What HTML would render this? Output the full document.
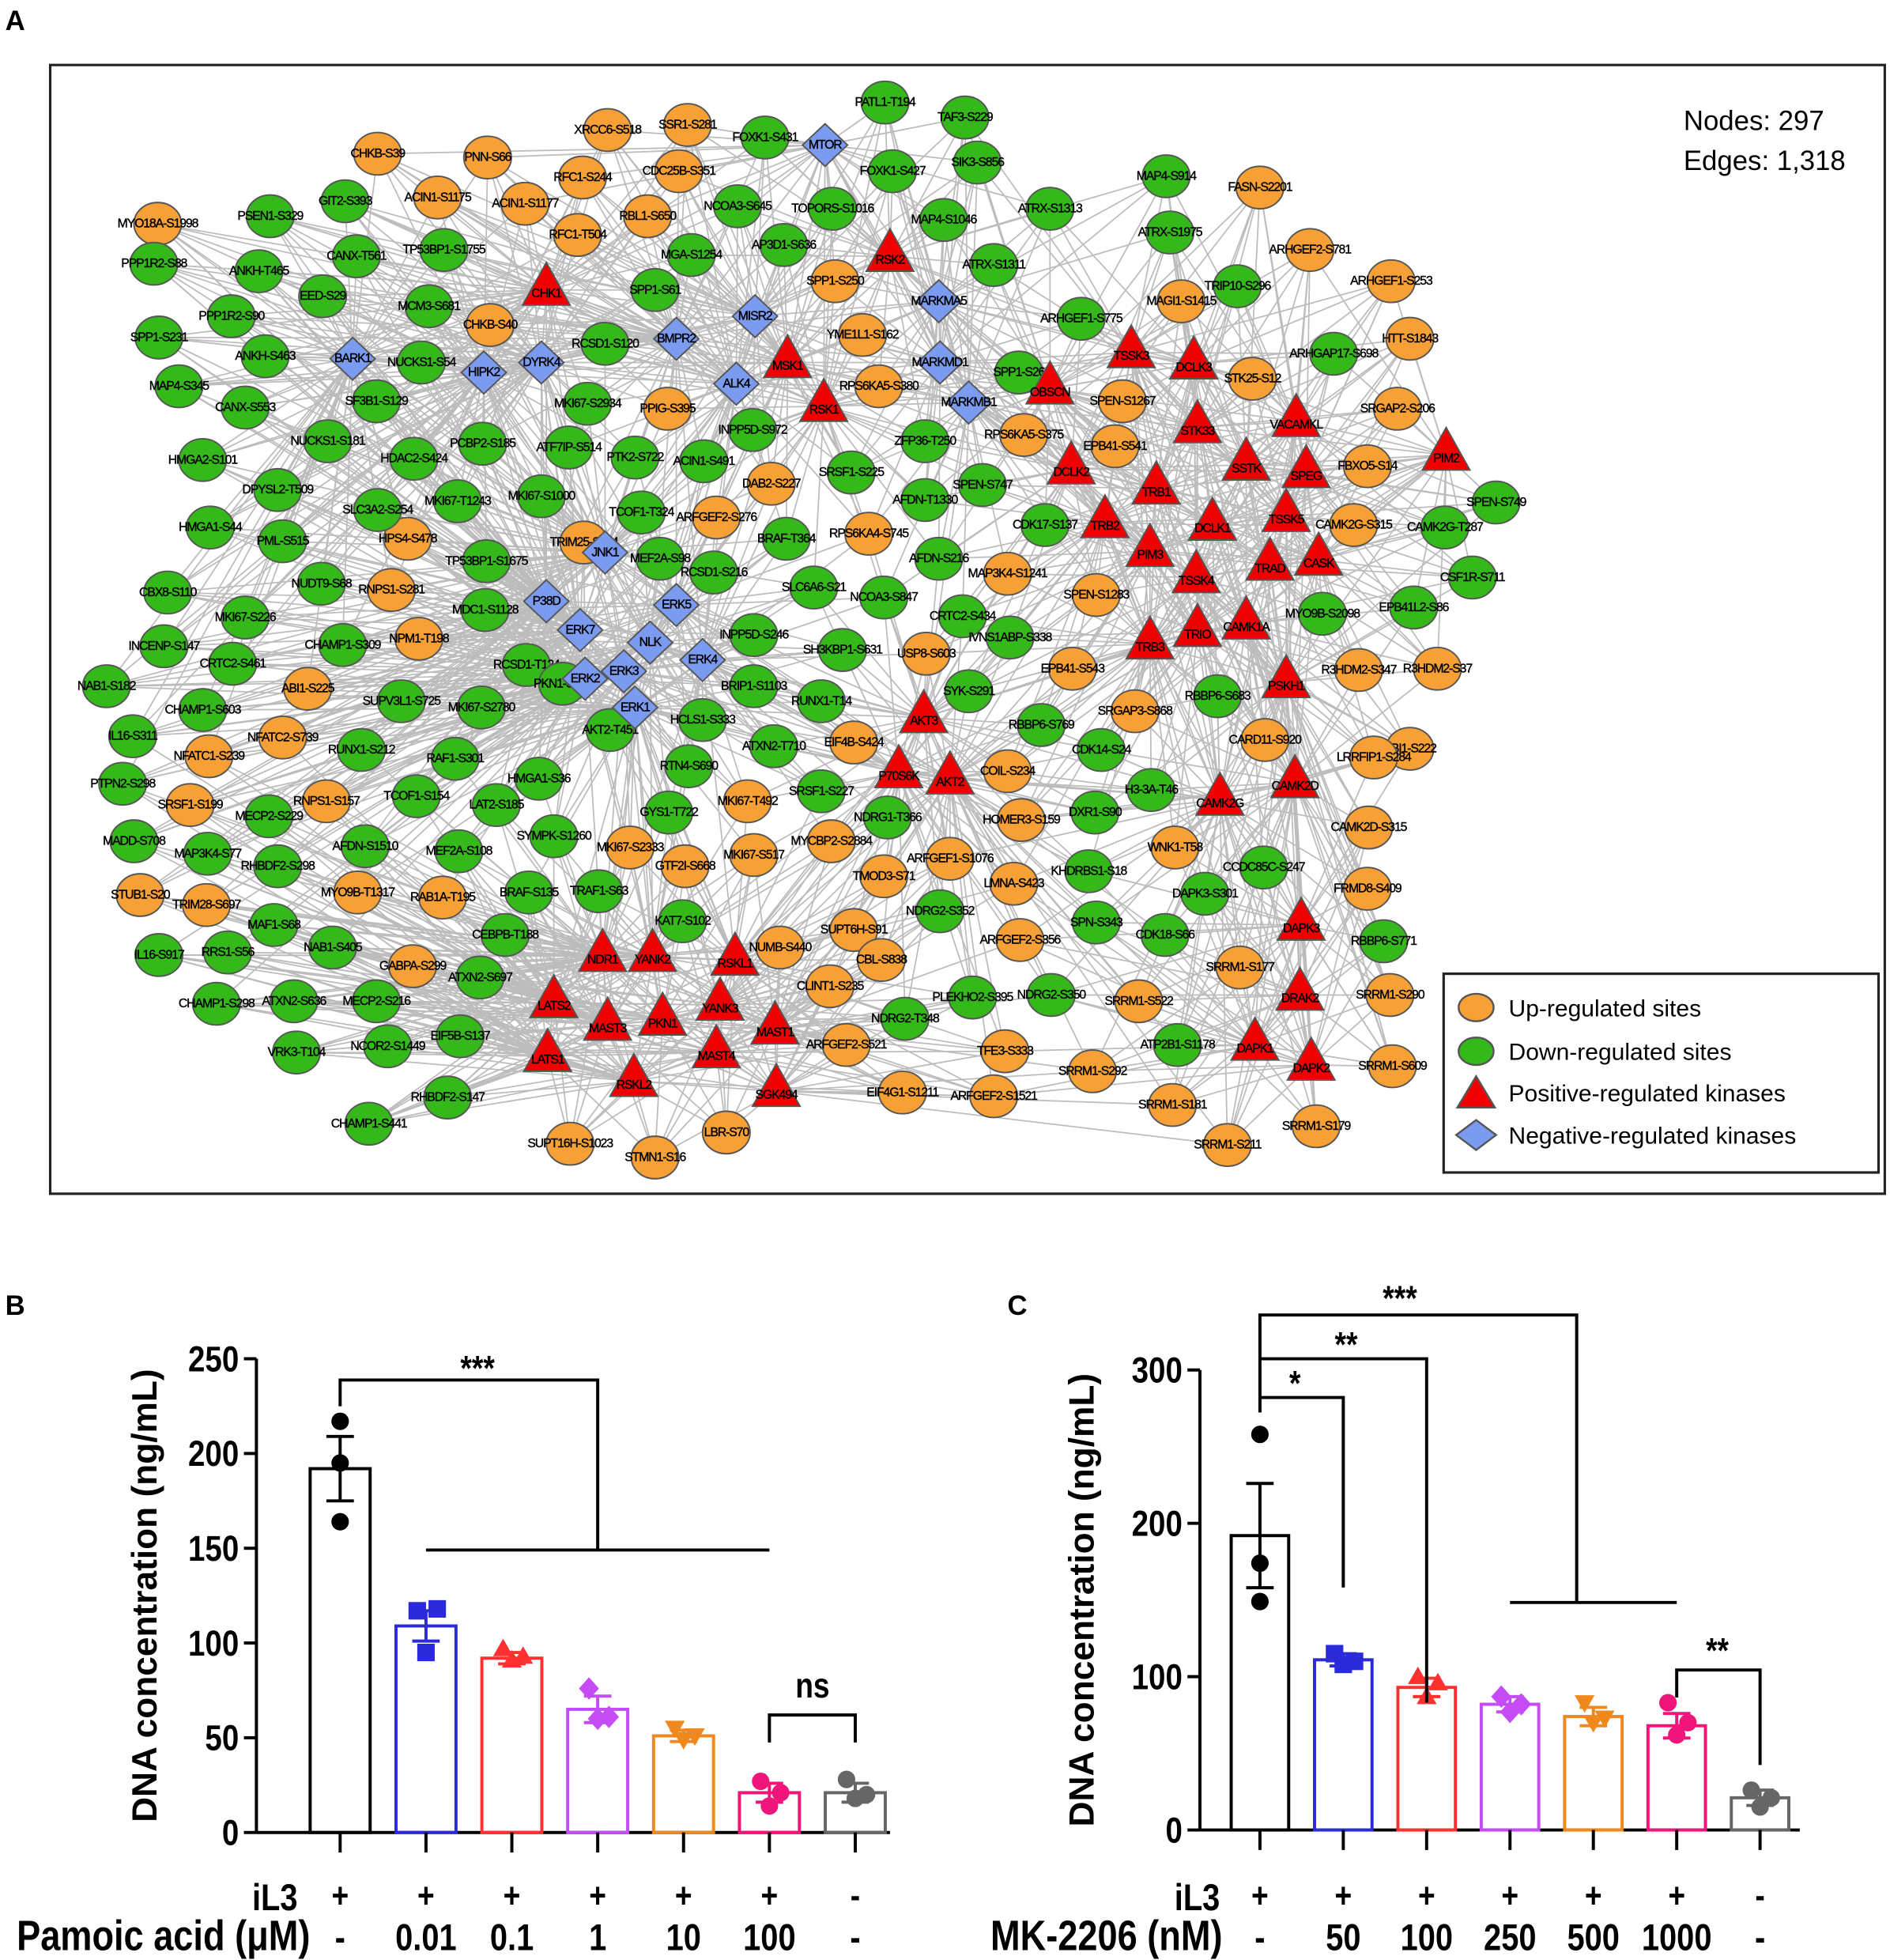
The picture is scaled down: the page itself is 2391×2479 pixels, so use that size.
<!DOCTYPE html>
<html><head><meta charset="utf-8"><style>
html,body{margin:0;padding:0;background:#fff}
svg{display:block}
.lbl{font-family:"Liberation Sans Narrow","Liberation Sans",sans-serif;font-size:10px;fill:#000;stroke:#000;stroke-width:0.25;text-anchor:middle;dominant-baseline:central;letter-spacing:-0.7px}
.ax{font-family:"Liberation Sans Narrow","Liberation Sans",sans-serif;font-weight:bold;fill:#000}
</style></head><body>
<svg id="fig" width="2391" height="2479" viewBox="0 0 1512 1568" xmlns="http://www.w3.org/2000/svg">
<text x="4" y="24" font-family="Liberation Sans" font-weight="bold" font-size="22">A</text>
<text x="4" y="1052" font-family="Liberation Sans" font-weight="bold" font-size="22">B</text>
<text x="806" y="1052" font-family="Liberation Sans" font-weight="bold" font-size="22">C</text>
<rect x="40" y="52" width="1468" height="903" fill="none" stroke="#222" stroke-width="2"/>
<g id="edges"></g>
<g id="nodes"></g>
<text x="1347" y="104" font-family="Liberation Sans" font-size="22">Nodes: 297</text>
<text x="1347" y="136" font-family="Liberation Sans" font-size="22">Edges: 1,318</text>
<g>
<rect x="1155" y="779" width="348" height="159" fill="#fff" stroke="#222" stroke-width="2"/>
<ellipse cx="1181" cy="806" rx="14" ry="11" fill="#f7a035" stroke="#555" stroke-width="1.5"/>
<text x="1207" y="813" font-family="Liberation Sans" font-size="19">Up-regulated sites</text>
<ellipse cx="1181" cy="841" rx="14" ry="11" fill="#34b81a" stroke="#555" stroke-width="1.5"/>
<text x="1207" y="848" font-family="Liberation Sans" font-size="19">Down-regulated sites</text>
<polygon points="1181,861 1196,886 1166,886" fill="#f00000" stroke="#555" stroke-width="1.5"/>
<text x="1207" y="881" font-family="Liberation Sans" font-size="19">Positive-regulated kinases</text>
<polygon points="1181,896 1197,908 1181,920 1165,908" fill="#7b9bf0" stroke="#555" stroke-width="1.5"/>
<text x="1207" y="915" font-family="Liberation Sans" font-size="19">Negative-regulated kinases</text>
</g>
<g id="chartB"></g>
<g id="chartC"></g>
</svg>
<script>
const NS="http://www.w3.org/2000/svg";
function mk(parent,tag,attrs,text){const e=document.createElementNS(NS,tag);for(const k in attrs)e.setAttribute(k,attrs[k]);if(text!==undefined)e.textContent=text;parent.appendChild(e);return e;}
const upNodes=[["CHKB-S39",302,123],["PNN-S66",390,126],["XRCC6-S518",486,104],["SSR1-S281",550,100],["ACIN1-S1175",350,158],["ACIN1-S1177",420,163],["RFC1-S244",466,142],["CDC25B-S351",543,137],["RBL1-S650",518,173],["RFC1-T504",462,188],["MYO18A-S1998",126,179],["CHKB-S40",392,260],["SPP1-S250",668,225],["YME1L1-S162",690,268],["RPS6KA5-S380",703,309],["PPIG-S395",534,327],["ARFGEF2-S276",573,414],["DAB2-S227",617,387],["HPS4-S478",326,431],["TRIM25-S424",467,434],["RPS6KA4-S745",695,427],["RNPS1-S281",313,472],["NPM1-T198",335,511],["ABI1-S225",246,551],["NFATC2-S739",226,590],["NFATC1-S239",167,605],["SRSF1-S199",152,644],["RNPS1-S157",261,641],["STUB1-S20",112,716],["TRIM28-S697",165,724],["RAB1A-T195",354,718],["MYO9B-T1317",286,714],["GABPA-S299",330,773],["USP8-S603",741,523],["EIF4B-S424",683,594],["MKI67-T492",598,641],["MKI67-S2333",504,678],["MKI67-S517",603,684],["GTF2I-S668",548,693],["MYCBP2-S2884",665,673],["TMOD3-S71",707,701],["NUMB-S440",624,758],["SUPT6H-S91",683,744],["CLINT1-S235",664,789],["CBL-S838",705,768],["ARFGEF1-S1076",760,687],["COIL-S234",806,617],["LMNA-S423",811,707],["HOMER3-S159",817,656],["SUPT16H-S1023",456,915],["STMN1-S16",524,926],["LBR-S70",581,906],["TFE3-S333",804,841],["EIF4G1-S1211",722,874],["ARFGEF2-S521",677,836],["ARFGEF2-S1521",795,877],["ARFGEF2-S356",816,752],["SPEN-S1267",898,321],["EPB41-S541",892,357],["SPEN-S1283",877,476],["EPB41-S543",858,535],["SRGAP3-S868",908,569],["MAP3K4-S1241",806,459],["RPS6KA5-S375",819,348],["MAGI1-S1415",945,241],["FASN-S2201",1008,150],["ARHGEF2-S781",1048,200],["STK25-S12",1002,303],["ARHGEF1-S253",1113,225],["HTT-S1843",1128,271],["SRGAP2-S206",1118,327],["FBXO5-S14",1094,373],["CAMK2G-S315",1083,420],["R3HDM2-S347",1087,536],["R3HDM2-S37",1150,535],["ABI1-S222",1128,599],["LRRFIP1-S284",1099,606],["CARD11-S920",1012,592],["CAMK2D-S315",1095,662],["FRMD8-S409",1094,711],["WNK1-T58",940,678],["SRRM1-S177",992,774],["SRRM1-S290",1112,796],["SRRM1-S522",911,801],["SRRM1-S609",1114,853],["SRRM1-S292",874,857],["SRRM1-S181",938,884],["SRRM1-S211",982,916],["SRRM1-S179",1053,901]];
const downNodes=[["PATL1-T194",708,82],["TAF3-S229",772,94],["FOXK1-S431",612,110],["FOXK1-S427",714,137],["SIK3-S856",782,130],["MAP4-S914",933,141],["ATRX-S1313",840,167],["MAP4-S1046",755,176],["ATRX-S1975",936,186],["ATRX-S1311",795,212],["TOPORS-S1016",666,167],["NCOA3-S645",590,165],["AP3D1-S636",627,196],["MGA-S1254",553,204],["SPP1-S61",524,232],["GIT2-S393",276,161],["PSEN1-S329",216,173],["CANX-T561",285,205],["TP53BP1-S1755",355,200],["EED-S29",258,237],["ANKH-T465",207,217],["PPP1R2-S88",123,211],["PPP1R2-S90",185,253],["SPP1-S231",127,270],["ANKH-S463",212,285],["MAP4-S345",143,309],["CANX-S553",196,326],["MCM3-S681",343,245],["NUCKS1-S54",337,290],["SF3B1-S129",301,321],["RCSD1-S120",484,275],["MKI67-S2934",470,323],["NUCKS1-S181",262,353],["PCBP2-S185",386,355],["ATF7IP-S514",455,358],["PTK2-S722",508,366],["ACIN1-S491",563,369],["INPP5D-S972",602,344],["HMGA2-S101",162,368],["HDAC2-S424",331,367],["DPYSL2-T509",222,392],["SLC3A2-S254",302,408],["MKI67-S1000",433,397],["MKI67-T1243",366,401],["HMGA1-S44",168,422],["PML-S515",226,433],["NUDT9-S68",257,467],["TCOF1-T324",513,410],["SRSF1-S225",681,378],["AFDN-T1330",740,400],["ZFP36-T250",740,353],["SPP1-S26",815,298],["ARHGEF1-S775",865,255],["SPEN-S747",786,388],["CDK17-S137",836,420],["AFDN-S216",751,447],["BRAF-T364",629,431],["MEF2A-S98",528,447],["TP53BP1-S1675",389,449],["CBX8-S110",134,474],["MKI67-S226",196,494],["RCSD1-S216",571,458],["SLC6A6-S21",651,470],["NCOA3-S847",707,478],["MDC1-S1128",388,488],["INCENP-S147",131,517],["CHAMP1-S309",274,516],["CRTC2-S461",186,531],["CRTC2-S434",770,493],["IVNS1ABP-S338",808,510],["NAB1-S182",85,549],["SUPV3L1-S725",321,561],["MKI67-S2780",385,566],["RCSD1-T124",421,532],["INPP5D-S246",603,508],["SH3KBP1-S631",674,520],["BRIP1-S1103",603,549],["CHAMP1-S603",162,568],["IL16-S311",106,589],["RUNX1-S212",289,600],["PKN1-S346",450,547],["HCLS1-S333",562,576],["RUNX1-T14",657,561],["ATXN2-T710",619,597],["SYK-S291",775,553],["RBBP6-S769",833,580],["CDK14-S24",881,600],["PTPN2-S298",98,627],["RAF1-S301",364,607],["AKT2-T451",488,584],["RTN4-S690",551,613],["SRSF1-S227",657,633],["GYS1-T722",535,650],["MECP2-S229",215,653],["TCOF1-S154",333,637],["LAT2-S185",397,644],["HMGA1-S36",431,623],["NDRG1-T366",710,654],["H3-3A-T46",921,632],["DXR1-S90",876,650],["MADD-S708",107,673],["MAP3K4-S77",166,683],["RHBDF2-S298",222,693],["SYMPK-S1260",443,669],["MEF2A-S108",367,681],["AFDN-S1510",292,677],["KHDRBS1-S18",871,697],["TRAF1-S63",479,713],["BRAF-S135",423,714],["MAF1-S68",219,740],["RRS1-S56",182,762],["IL16-S917",127,764],["NAB1-S405",266,758],["CHAMP1-S298",173,803],["ATXN2-S636",235,801],["CEBPB-T188",404,748],["ATXN2-S697",384,782],["MECP2-S216",301,801],["KAT7-S102",546,737],["NDRG2-S352",752,729],["SPN-S343",877,738],["DAPK3-S301",964,715],["CDK18-S66",932,748],["PLEKHO2-S395",778,798],["NDRG2-S350",841,796],["NDRG2-T348",724,815],["VRK3-T104",237,842],["EIF5B-S137",368,829],["NCOR2-S1449",310,837],["RHBDF2-S147",358,878],["CHAMP1-S441",295,899],["ATP2B1-S1178",942,836],["RBBP6-S771",1107,753],["CCDC85C-S247",1011,694],["CSF1R-S711",1178,462],["EPB41L2-S86",1131,486],["MYO9B-S2098",1058,491],["RBBP6-S683",974,557],["SPEN-S749",1197,402],["CAMK2G-T287",1156,422],["ARHGAP17-S698",1067,283],["TRIP10-S296",990,229]];
const posKinases=[["CHK1",437,232],["RSK2",712,205],["MSK1",630,290],["RSK1",659,325],["TSSK3",905,282],["DCLK3",955,291],["OBSCN",840,311],["STK33",958,342],["VACAMKL",1037,337],["PIM2",1157,364],["DCLK2",857,375],["TRB1",925,391],["SSTK",997,372],["SPEG",1045,378],["TRB2",884,418],["DCLK1",970,420],["TSSK5",1029,413],["PIM3",920,441],["TRAD",1016,452],["CASK",1055,448],["TSSK4",957,462],["CAMK1A",997,499],["TRIO",958,505],["TRB3",920,515],["PSKH1",1029,546],["AKT3",739,574],["P70S6K",719,618],["AKT2",760,623],["CAMK2G",976,640],["CAMK2D",1036,626],["DAPK3",1041,740],["DRAK2",1040,796],["DAPK1",1004,836],["DAPK2",1049,852],["NDR1",482,765],["YANK2",522,765],["RSKL1",588,768],["LATS2",443,802],["MAST3",486,820],["PKN1",530,816],["YANK3",576,804],["MAST1",620,823],["LATS1",438,845],["MAST4",573,842],["RSKL2",507,865],["SGK494",621,873]];
const negKinases=[["MTOR",660,116],["MARKMA5",751,241],["MISR2",604,253],["BMPR2",541,271],["MARKMD1",752,290],["ALK4",589,307],["MARKMB1",775,322],["BARK1",282,287],["HIPK2",387,298],["DYRK4",433,290],["JNK1",484,442],["P38D",437,481],["ERK5",541,484],["ERK7",464,504],["NLK",520,514],["ERK3",499,537],["ERK4",562,528],["ERK2",468,543],["ERK1",508,566]];
const kin=posKinases.concat(negKinases);
const sites=upNodes.concat(downNodes);
const E=document.getElementById('edges'),N=document.getElementById('nodes');
sites.forEach(s=>{
  const d=kin.map(k=>[Math.hypot(k[1]-s[1],k[2]-s[2]),k]).sort((a,b)=>a[0]-b[0]);
  for(let i=0;i<8;i++){const k=d[i][1];
    const l=mk(E,'line',{x1:k[1],y1:k[2],x2:s[1],y2:s[2],stroke:'#bcbcbc','stroke-width':1.1});
    
    }
});
kin.forEach((a,i)=>{kin.forEach((b,j)=>{if(j>i&&Math.hypot(a[1]-b[1],a[2]-b[2])<260){
  const l=mk(E,'line',{x1:a[1],y1:a[2],x2:b[1],y2:b[2],stroke:'#bcbcbc','stroke-width':1.1});
  
  }});});
function site(s,col){const g=mk(N,'g',{});
  
  
  mk(g,'ellipse',{cx:s[1],cy:s[2],rx:19,ry:17,fill:col,stroke:'#555','stroke-width':1.2});
  mk(g,'text',{x:s[1],y:s[2],class:'lbl'},s[0]);}
upNodes.forEach(s=>site(s,'#f7a035'));
downNodes.forEach(s=>site(s,'#34b81a'));
posKinases.forEach(s=>{const g=mk(N,'g',{});
  
  
  const x=s[1],y=s[2];
  mk(g,'polygon',{points:`${x},${y-22} ${x+19},${y+12} ${x-19},${y+12}`,fill:'#f00000',stroke:'#555','stroke-width':1.2});
  mk(g,'text',{x:x,y:y+3,class:'lbl'},s[0]);});
negKinases.forEach(s=>{const g=mk(N,'g',{});
  
  
  const x=s[1],y=s[2];
  mk(g,'polygon',{points:`${x},${y-17} ${x+18},${y} ${x},${y+17} ${x-18},${y}`,fill:'#7b9bf0',stroke:'#555','stroke-width':1.2});
  mk(g,'text',{x:x,y:y,class:'lbl'},s[0]);});

// ---- Chart B data ----
const bCats=["-","0.01","0.1","1","10","100","-"];
const bIL3=["+","+","+","+","+","+","-"];
const bMeans=[192,109,92,65,51,21,21];
const bSem=[17,8,3,7,3,5,5];
const bPts=[[217,195,164],[117,118,95],[97,93,91],[76,61,60],[55,51,49],[27,21,14],[28,20,18]];
const bTicks=[0,50,100,150,200,250];
// ---- Chart C data ----
const cCats=["-","50","100","250","500","1000","-"];
const cIL3=["+","+","+","+","+","+","-"];
const cMeans=[192,111,93,82,74,68,21];
const cSem=[34,4,6,5,6,8,5];
const cPts=[[258,174,149],[115,110,108],[100,96,87],[87,82,77],[83,73,70],[83,70,62],[26,21,15]];
const cTicks=[0,100,200,300];
const colors=["#000","#2a2ad8","#ff3030","#c54cf5","#f0891d","#f0157a","#666"];
const shapes=["circle","square","tri","diamond","itri","circle","circle"];

function ntext(G,x,y,size,anchor,txt,name){
  const t=mk(G,'text',{x:0,y:0,class:'ax','font-size':size,'text-anchor':anchor,transform:`translate(${x},${y}) scale(0.84,1)`},txt);
  
  
  return t;}
function chart(G,o){
  const y=v=>o.y0-(v-o.vmin)*(o.y0-o.y1)/(o.vmax-o.vmin);
  const x=i=>o.x0+o.first+i*o.step;
  mk(G,'line',{x1:o.x0,y1:o.y0,x2:o.x0,y2:y(o.vmax),stroke:'#000','stroke-width':2.5});
  mk(G,'line',{x1:o.x0,y1:o.y0,x2:o.xend,y2:o.y0,stroke:'#000','stroke-width':2.5});
  o.ticks.forEach(t=>{mk(G,'line',{x1:o.x0-10,y1:y(t),x2:o.x0,y2:y(t),stroke:'#000','stroke-width':2.5});
    ntext(G,o.x0-14,y(t)+10,29,'end',t,'y-tick-label');});
  const yt=mk(G,'text',{x:0,y:0,class:'ax','font-size':28,'text-anchor':'middle','font-family':'Liberation Sans',transform:`translate(${o.titleX},${(o.y0+y(o.vmax))/2}) rotate(-90)`},'DNA concentration (ng/mL)');
  
  
  o.means.forEach((m,i)=>{const cx=x(i),c=colors[i];
    const b=mk(G,'rect',{x:cx-o.bw/2,y:y(m),width:o.bw,height:o.y0-y(m),fill:'none',stroke:c,'stroke-width':2.5});
    
    
    mk(G,'line',{x1:cx,y1:y(m-o.sem[i]),x2:cx,y2:y(m+o.sem[i]),stroke:c,'stroke-width':2.5});
    [m-o.sem[i],m+o.sem[i]].forEach(v=>mk(G,'line',{x1:cx-11,y1:y(v),x2:cx+11,y2:y(v),stroke:c,'stroke-width':2.5}));
    o.pts[i].forEach((v,j)=>{const px=i==0?cx:cx+[-7,9,0][j],py=y(v);let p;
      const sh=shapes[i];
      if(sh=='circle')p=mk(G,'circle',{cx:px,cy:py,r:7,fill:c});
      else if(sh=='square')p=mk(G,'rect',{x:px-7,y:py-7,width:14,height:14,fill:c});
      else if(sh=='tri')p=mk(G,'polygon',{points:`${px},${py-8} ${px+8},${py+6} ${px-8},${py+6}`,fill:c});
      else if(sh=='itri')p=mk(G,'polygon',{points:`${px},${py+8} ${px+8},${py-6} ${px-8},${py-6}`,fill:c});
      else p=mk(G,'polygon',{points:`${px},${py-9} ${px+8},${py} ${px},${py+9} ${px-8},${py}`,fill:c});
      
      });
    mk(G,'line',{x1:cx,y1:o.y0,x2:cx,y2:o.y0+16,stroke:'#000','stroke-width':2.5});
    ntext(G,cx,1526,28,'middle',o.il3[i],'il3-sign');
    ntext(G,cx,1560,30,'middle',o.cats[i],'x-category-label');});
  ntext(G,o.il3X,1528,30,'end','iL3','il3-row-label');
  ntext(G,o.drugX,1560,34,'end',o.drug,'drug-row-label');
  return {x,y};
}
const GB=document.getElementById('chartB'),GC=document.getElementById('chartC');
const b=chart(GB,{x0:205,xend:712,y0:1466,y1:1087,vmin:0,vmax:250,first:67,step:68.7,bw:48,ticks:bTicks,means:bMeans,sem:bSem,pts:bPts,cats:bCats,il3:bIL3,titleX:125,il3X:238,drugX:248,drug:'Pamoic acid (μM)'});
const c=chart(GC,{x0:960,xend:1440,y0:1464,y1:1096,vmin:0,vmax:300,first:48,step:66.7,bw:46,ticks:cTicks,means:cMeans,sem:cSem,pts:cPts,cats:cCats,il3:cIL3,titleX:875,il3X:976,drugX:978,drug:'MK-2206 (nM)'});
const L=(G,pts)=>mk(G,'polyline',{points:pts,fill:'none',stroke:'#000','stroke-width':2.5});
L(GB,`${b.x(0)},1125 ${b.x(0)},1104 ${b.x(3)},1104 ${b.x(3)},1240`);
L(GB,`${b.x(1)},1240 ${b.x(5)},1240`);
ntext(GB,b.x(1.6),1104,28,'middle','***','sig-b-main');
L(GB,`${b.x(5)},1394 ${b.x(5)},1372 ${b.x(6)},1372 ${b.x(6)},1394`);
ntext(GB,650,1358,28,'middle','ns','sig-b-ns');
L(GC,`${c.x(0)},1130 ${c.x(0)},1052 ${c.x(3.8)},1052 ${c.x(3.8)},1282`);
L(GC,`${c.x(3)},1282 ${c.x(5)},1282`);
L(GC,`${c.x(0)},1087 ${c.x(2)},1087 ${c.x(2)},1362`);
L(GC,`${c.x(0)},1118 ${c.x(1)},1118 ${c.x(1)},1270`);
ntext(GC,1120,1048,28,'middle','***','sig-c-3');
ntext(GC,1077,1085,28,'middle','**','sig-c-2');
ntext(GC,1036,1116,28,'middle','*','sig-c-1');
L(GC,`${c.x(5)},1358 ${c.x(5)},1336 ${c.x(6)},1336 ${c.x(6)},1412`);
ntext(GC,1374,1330,28,'middle','**','sig-c-ctrl');
</script>
</body></html>
